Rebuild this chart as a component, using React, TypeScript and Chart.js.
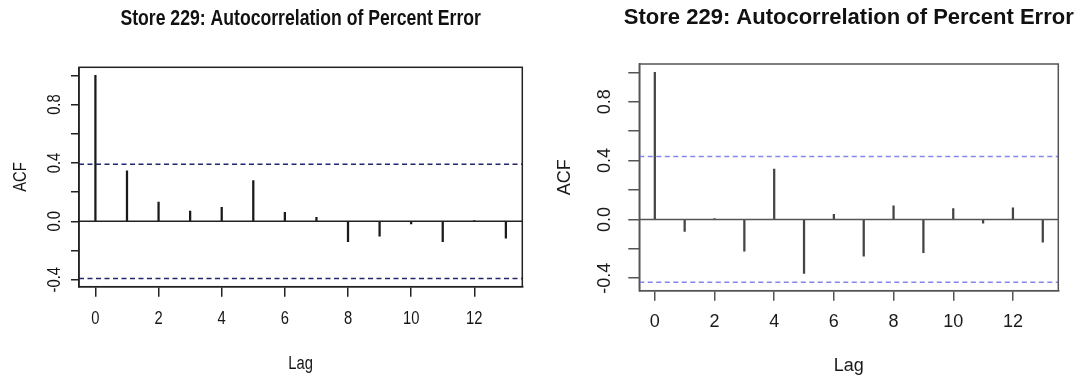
import React, { useEffect, useRef } from 'react';
import { Chart, registerables } from 'chart.js';

Chart.register(...registerables);

// ---------- data ----------
const chartTitle = 'Store 229: Autocorrelation of Percent Error';
const xAxisLabel = 'Lag';
const yAxisLabel = 'ACF';
const lags = [0, 1, 2, 3, 4, 5, 6, 7, 8, 9, 10, 11, 12, 13];
const leftAcf = [1.0, 0.347, 0.132, 0.071, 0.096, 0.279, 0.062, 0.027, -0.139, -0.101, -0.017, -0.139, 0.002, -0.116];
const rightAcf = [1.0, -0.081, 0.004, -0.216, 0.342, -0.367, 0.034, -0.25, 0.092, -0.227, 0.074, -0.025, 0.079, -0.155];
const leftCi = 0.392;
const rightCi = 0.428;
const xTickValues = [0, 2, 4, 6, 8, 10, 12];
const yTickValues = [-0.4, -0.2, 0, 0.2, 0.4, 0.6, 0.8, 1.0];
const yLabelledTicks = [-0.4, 0, 0.4, 0.8];

// R-style 4% axis expansion
function expand(lo: number, hi: number): [number, number] {
  const d = (hi - lo) * 0.04;
  return [lo - d, hi + d];
}

type PanelCfg = {
  acf: number[];
  ci: number;
  family: string;
  textScaleX: number;
  titleSize: number;
  left: number;
  width: number;
  height: number;
  area: { left: number; top: number; right: number; bottom: number };
  titleY: number;
  spikeColor: string;
  ciColor: string;
  boxColor: string;
  textColor: string;
  xTickLen: number;
  yTickLen: number;
  xTickPad: number;
  yTickPad: number;
  xTitlePad: number;
  yTitlePad: number;
};

const panels: PanelCfg[] = [
  {
    acf: leftAcf,
    ci: leftCi,
    family: '"Liberation Sans", Arial, sans-serif',
    textScaleX: 0.82,
    titleSize: 21.5,
    left: 0,
    width: 538,
    height: 375,
    area: { left: 79, top: 67.3, right: 522.3, bottom: 286.7 },
    titleY: 19,
    spikeColor: '#1a1a1a',
    ciColor: '#24246e',
    boxColor: '#222222',
    textColor: '#151515',
    xTickLen: 10,
    yTickLen: 8,
    xTickPad: 12,
    yTickPad: 3,
    xTitlePad: 0,
    yTitlePad: 10,
  },
  {
    acf: rightAcf,
    ci: rightCi,
    family: '"Liberation Sans", Arial, sans-serif',
    textScaleX: 1,
    titleSize: 22,
    left: 538,
    width: 539,
    height: 375,
    area: { left: 101.3, top: 64, right: 520.3, bottom: 290.7 },
    titleY: 17.7,
    spikeColor: '#444444',
    ciColor: '#8686ee',
    boxColor: '#555555',
    textColor: '#1a1a1a',
    xTickLen: 10,
    yTickLen: 11,
    xTickPad: 11,
    yTickPad: 8,
    xTitlePad: -2,
    yTitlePad: 16,
  },
];

// Narrow-font emulation: compress text along its own baseline direction.
function applyTextScale(ctx: CanvasRenderingContext2D, sx: number) {
  if (sx === 1) return;
  const origFill = ctx.fillText.bind(ctx);
  const origMeasure = ctx.measureText.bind(ctx);
  (ctx as any).fillText = (text: string, x: number, y: number, maxWidth?: number) => {
    ctx.save();
    ctx.translate(x, y);
    ctx.scale(sx, 1);
    if (maxWidth === undefined) origFill(text, 0, 0);
    else origFill(text, 0, 0, maxWidth / sx);
    ctx.restore();
  };
  (ctx as any).measureText = (text: string) => {
    const m = origMeasure(text);
    return {
      width: m.width * sx,
      actualBoundingBoxLeft: m.actualBoundingBoxLeft * sx,
      actualBoundingBoxRight: m.actualBoundingBoxRight * sx,
      actualBoundingBoxAscent: m.actualBoundingBoxAscent,
      actualBoundingBoxDescent: m.actualBoundingBoxDescent,
      fontBoundingBoxAscent: m.fontBoundingBoxAscent,
      fontBoundingBoxDescent: m.fontBoundingBoxDescent,
    };
  };
}

function AcfPanel({ cfg }: { cfg: PanelCfg }) {
  const ref = useRef<HTMLCanvasElement | null>(null);
  useEffect(() => {
    if (!ref.current) return;
    const ctx2d = ref.current.getContext('2d');
    if (ctx2d) applyTextScale(ctx2d, cfg.textScaleX);
    const [xMin, xMax] = expand(Math.min(...lags), Math.max(...lags));
    const [yMin, yMax] = expand(Math.min(-cfg.ci, ...cfg.acf), Math.max(cfg.ci, ...cfg.acf));
    const font = { family: cfg.family, size: 18 };

    const boxPlugin = {
      id: 'rbox',
      afterDatasetsDraw(chart: any) {
        const { ctx, chartArea: a } = chart;
        ctx.save();
        ctx.strokeStyle = cfg.boxColor;
        ctx.lineWidth = 1.5;
        ctx.strokeRect(a.left, a.top, a.right - a.left, a.bottom - a.top);
        ctx.restore();
      },
      afterDraw(chart: any) {
        const { ctx, chartArea: a } = chart;
        ctx.save();
        ctx.fillStyle = '#111111';
        ctx.font = `bold ${cfg.titleSize}px ${cfg.family}`;
        ctx.textAlign = 'center';
        ctx.textBaseline = 'middle';
        ctx.fillText(chartTitle, (a.left + a.right) / 2, cfg.titleY);
        ctx.restore();
      },
    };

    const chart = new Chart(ref.current, {
      type: 'bar',
      data: {
        datasets: [
          {
            type: 'line',
            data: [{ x: xMin, y: 0 }, { x: xMax, y: 0 }],
            borderColor: cfg.boxColor,
            borderWidth: 1.5,
            pointRadius: 0,
          } as any,
          {
            type: 'line',
            data: [{ x: xMin, y: cfg.ci }, { x: xMax, y: cfg.ci }],
            borderColor: cfg.ciColor,
            borderWidth: 1.5,
            borderDash: [5, 3.5],
            pointRadius: 0,
          } as any,
          {
            type: 'line',
            data: [{ x: xMin, y: -cfg.ci }, { x: xMax, y: -cfg.ci }],
            borderColor: cfg.ciColor,
            borderWidth: 1.5,
            borderDash: [5, 3.5],
            pointRadius: 0,
          } as any,
          {
            type: 'bar',
            data: lags.map((l, i) => ({ x: l, y: cfg.acf[i] })),
            backgroundColor: cfg.spikeColor,
            borderWidth: 0,
            barThickness: 1.6,
          } as any,
        ],
      },
      options: {
        responsive: false,
        animation: false,
        layout: {
          padding: { left: 0, top: cfg.area.top, right: cfg.width - cfg.area.right, bottom: 0 },
        },
        plugins: {
          legend: { display: false },
          tooltip: { enabled: false },
          title: { display: false },
        },
        scales: {
          x: {
            type: 'linear',
            min: xMin,
            max: xMax,
            offset: false,
            afterBuildTicks: (s: any) => {
              s.ticks = xTickValues.map((v) => ({ value: v }));
            },
            afterFit: (s: any) => {
              s.height = cfg.height - cfg.area.bottom;
            },
            grid: {
              drawOnChartArea: false,
              drawTicks: true,
              tickLength: cfg.xTickLen,
              tickColor: cfg.boxColor,
              lineWidth: 1.5,
              offset: false,
            },
            border: { display: true, color: cfg.boxColor, width: 1.5 },
            ticks: {
              font,
              color: cfg.textColor,
              padding: cfg.xTickPad,
              maxRotation: 0,
              autoSkip: false,
              callback: (v: any) => String(v),
            },
            title: {
              display: true,
              text: xAxisLabel,
              font,
              color: cfg.textColor,
              padding: { top: 0, bottom: cfg.xTitlePad },
            },
          },
          y: {
            type: 'linear',
            min: yMin,
            max: yMax,
            afterBuildTicks: (s: any) => {
              s.ticks = yTickValues.map((v) => ({ value: v }));
            },
            afterFit: (s: any) => {
              s.width = cfg.area.left;
            },
            grid: {
              drawOnChartArea: false,
              drawTicks: true,
              tickLength: cfg.yTickLen,
              tickColor: cfg.boxColor,
              lineWidth: 1.5,
            },
            border: { display: true, color: cfg.boxColor, width: 1.5 },
            ticks: {
              font,
              color: cfg.textColor,
              padding: cfg.yTickPad,
              minRotation: 90,
              maxRotation: 90,
              crossAlign: 'center',
              autoSkip: false,
              callback: (v: any) => (yLabelledTicks.some((t) => Math.abs(t - v) < 1e-9) ? Number(v).toFixed(1) : ''),
            },
            title: {
              display: true,
              text: yAxisLabel,
              font,
              color: cfg.textColor,
              padding: { top: cfg.yTitlePad, bottom: 0 },
            },
          },
        },
      } as any,
      plugins: [boxPlugin],
    });
    return () => chart.destroy();
  }, [cfg]);
  return (
    <canvas
      ref={ref}
      width={cfg.width}
      height={cfg.height}
      style={{ position: 'absolute', left: cfg.left, top: 0, width: cfg.width, height: cfg.height }}
    />
  );
}

export default function App() {
  return (
    <div style={{ position: 'absolute', left: 0, top: 0, width: 1077, height: 375, background: '#ffffff' }}>
      {panels.map((p, i) => (
        <AcfPanel key={i} cfg={p} />
      ))}
    </div>
  );
}
